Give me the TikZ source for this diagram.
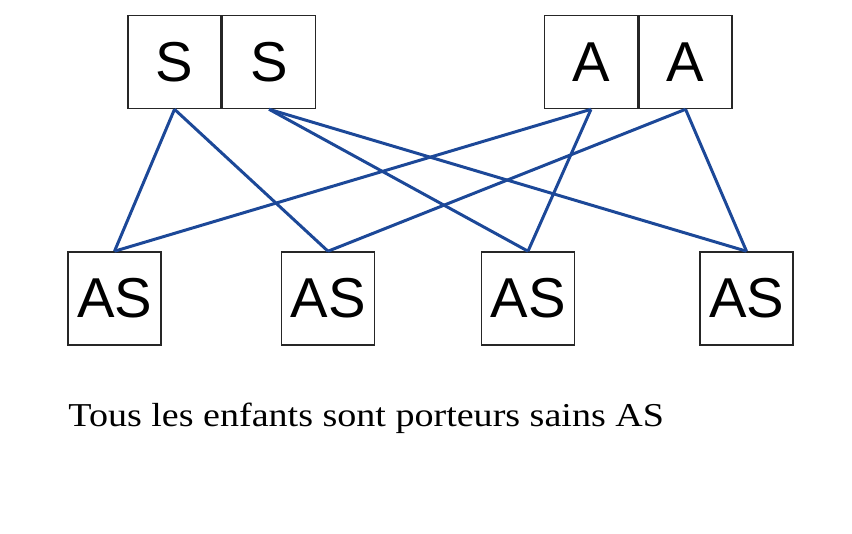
\documentclass[tikz,border=0pt]{standalone}
\usepackage{fontspec}
\setmainfont{Liberation Serif}
\setsansfont{Liberation Sans}
\usetikzlibrary{positioning}

\definecolor{crossblue}{RGB}{28,72,152}

\tikzset{
  allele/.style={draw=black!85, line width=0.9pt, minimum size=1.86cm, inner sep=0pt,
    font=\sffamily\fontsize{32}{32}\selectfont},
  cross/.style={draw=crossblue, line width=1.7pt}
}

\begin{document}
\begin{tikzpicture}[x=0.02cm, y=-0.02cm]

  % page frame
  \useasboundingbox (0,0) rectangle (852,534);

  % --- parents ---
  \node[allele] (s1) at (174.5,62) {S};
  \node[allele, right=0pt of s1] (s2) {S};
  \node[allele] (a1) at (591,62) {A};
  \node[allele, right=0pt of a1] (a2) {A};

  % --- children ---
  \node[allele] (c1) at (114.5,298.5) {AS};
  \node[allele] (c2) at (328,298.5) {AS};
  \node[allele] (c3) at (528,298.5) {AS};
  \node[allele] (c4) at (746.5,298.5) {AS};

  % crossings
  \draw[cross] (s1.south) -- (c1.north);
  \draw[cross] (s1.south) -- (c2.north);
  \draw[cross] (s2.south) -- (c3.north);
  \draw[cross] (s2.south) -- (c4.north);
  \draw[cross] (a1.south) -- (c1.north);
  \draw[cross] (a1.south) -- (c3.north);
  \draw[cross] (a2.south) -- (c2.north);
  \draw[cross] (a2.south) -- (c4.north);

  % caption
  \node[anchor=base west, inner sep=0pt, xscale=1.14, font=\fontsize{19}{19}\selectfont] (caption) at (68,426)
    {Tous les enfants sont porteurs sains AS};

\end{tikzpicture}
\end{document}
